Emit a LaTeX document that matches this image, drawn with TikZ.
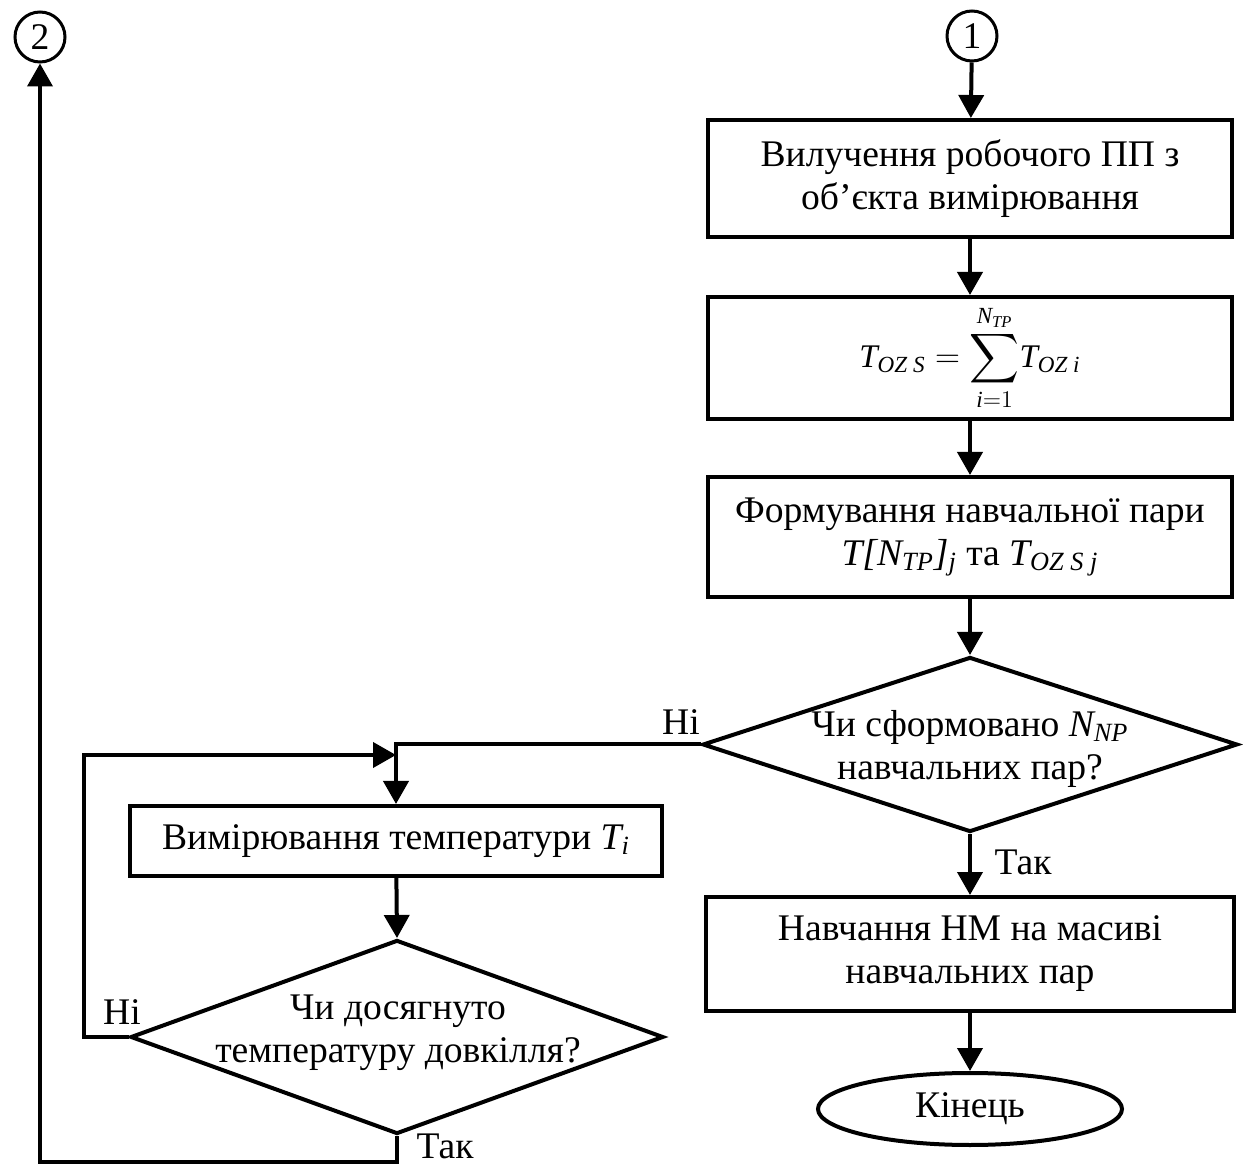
\documentclass[tikz,border=0pt]{standalone}
\usepackage{amsmath}
\usepackage{fontspec}
\setmainfont{Liberation Serif}
\usetikzlibrary{arrows.meta,shapes.geometric}

\tikzset{
  flow/.style={line width=2pt},
  arr/.style={flow, -{Triangle[length=11.5pt,width=12.5pt]}},
  txt/.style={font=\fontsize{18.8}{21.5}\selectfont, align=center},
  box/.style={txt, draw, line width=2pt, inner sep=0pt},
  decision/.style={diamond, draw, line width=2pt, inner sep=0pt},
  term/.style={ellipse, draw, line width=2pt, inner sep=0pt},
  conn/.style={circle, draw, line width=1.5pt, inner sep=0pt, minimum size=25pt, txt},
  lbl/.style={txt, inner sep=0pt}
}

\begin{document}
\begin{tikzpicture}[x=0.5pt, y=-0.5pt]
\useasboundingbox (0,0) rectangle (1243,1165);

% connectors between pages
\node[conn] (c1) at (972,36) {1};
\node[conn] (c2) at (40,37) {2};

% right column
\node[box, minimum width=262pt, minimum height=58.5pt] (b1) at (970,178.5)
  {Вилучення робочого ПП з\\об’єкта вимірювання};
\node[box, minimum width=262pt, minimum height=61pt,
      font=\fontsize{16.5}{18}\selectfont] (b2) at (970,358)
  {$\textit{T}_{\textit{OZ S}} = \displaystyle\sum_{\textit{i}=1}^{\textit{N}_{\textit{TP}}}\!\textit{T}_{\textit{OZ i}}$};
\node[box, minimum width=262pt, minimum height=60pt] (b3) at (970,537)
  {Формування навчальної пари\\
   \textit{T[N\textsubscript{TP}]\textsubscript{j}} та \textit{T\textsubscript{OZ S j}}};
\node[decision, minimum width=267.5pt, minimum height=87.5pt] (d1) at (970,744.5) {};
\node[lbl] (d1t) at (970,749) {Чи сформовано \textit{N\textsubscript{NP}}\\навчальних пар?};
\node[box, minimum width=264pt, minimum height=57pt] (b4) at (970,954)
  {Навчання НМ на масиві\\навчальних пар};
\node[term, minimum width=152pt, minimum height=36pt, txt] (e) at (970,1109) {Кінець};

% left column
\node[box, minimum width=266pt, minimum height=35pt] (b5) at (396,841)
  {Вимірювання температури \textit{T\textsubscript{i}}};
\node[decision, minimum width=266.5pt, minimum height=97pt] (d2) at (397,1037) {};
\node[lbl] (d2t) at (398,1033) {Чи досягнуто\\температуру довкілля?};

% helper points for the loops
\coordinate (jn) at (396,755);
\coordinate (bl) at (40,1162);

% flow lines
\draw[arr] (c1) -- (b1);
\draw[arr] (b1) -- (b2);
\draw[arr] (b2) -- (b3);
\draw[arr] (b3) -- (d1);
\draw[arr] (d1.south) -- (b4.north);
\draw[arr] (b4) -- (e);
\draw[arr] (d1.west) -| (b5.north);
\draw[arr] (b5) -- (d2.north);
\draw[arr] (d2.west) -- ++(-45,0) |- (jn);
\draw[arr] (d2.south) |- (bl) -- (c2.south);

% branch labels
\node[lbl] (l1) at (681,722) {Ні};
\node[lbl] (l2) at (1023,862) {Так};
\node[lbl] (l3) at (122,1012) {Ні};
\node[lbl] (l4) at (445,1146) {Так};
\end{tikzpicture}
\end{document}
